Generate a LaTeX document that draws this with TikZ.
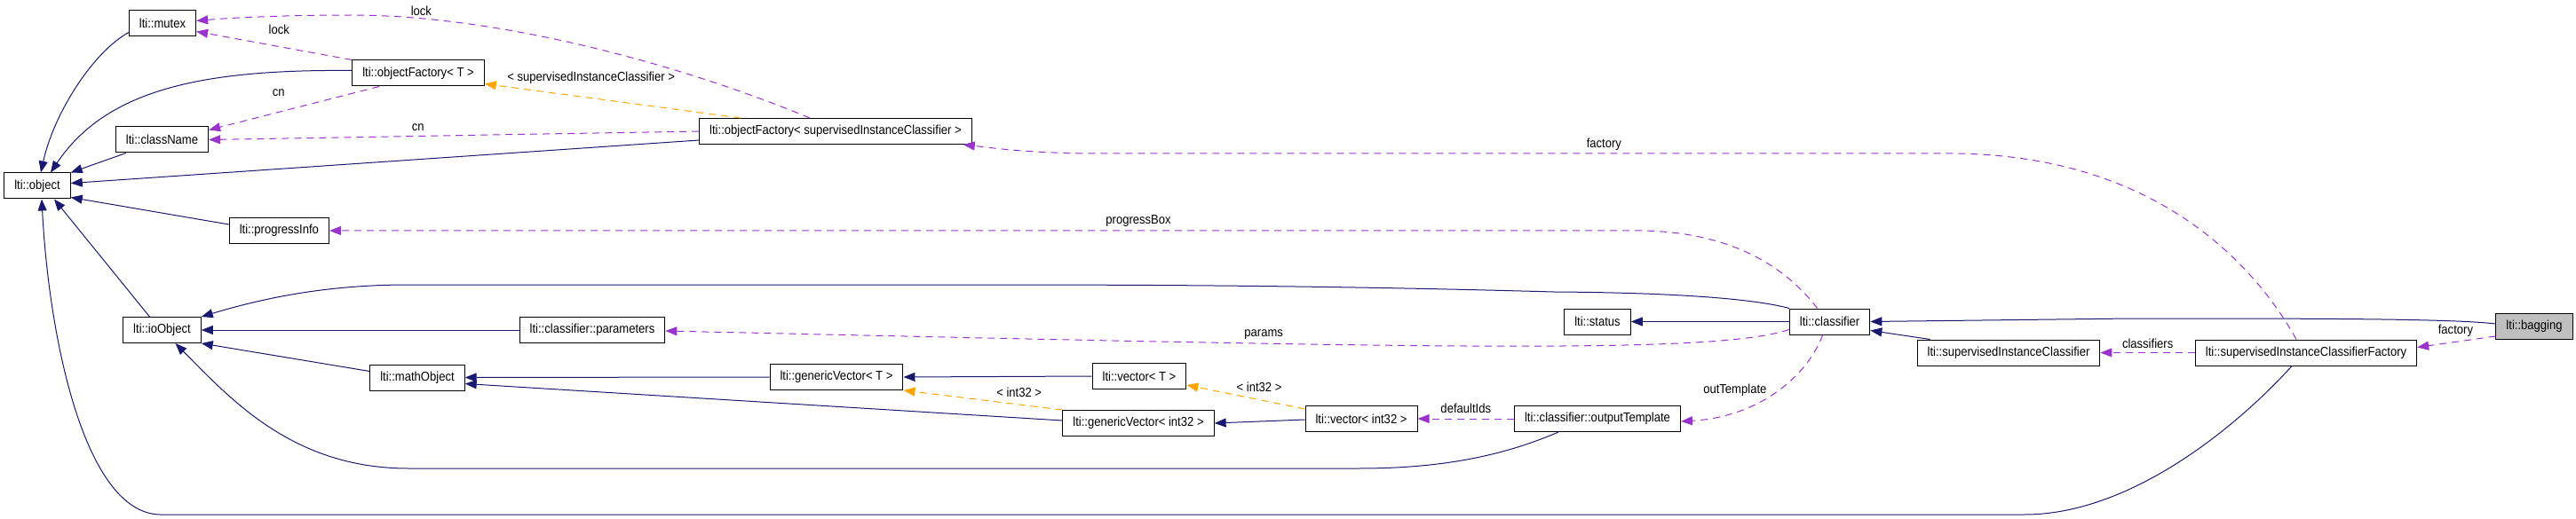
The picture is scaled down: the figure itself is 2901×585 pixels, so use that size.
\documentclass[tikz,border=0pt]{standalone}
\usepackage{fontspec}
\setmainfont{Liberation Sans}[FakeStretch=0.9]
\usepackage{tikz}
\usetikzlibrary{arrows.meta}

\definecolor{inhblue}{HTML}{191970}
\definecolor{usepurple}{HTML}{9A32CD}
\definecolor{tplorange}{HTML}{FFA500}

\begin{document}
\begin{tikzpicture}[
    x=1pt, y=1pt,
    font=\fontsize{14.5}{16}\selectfont,
    cls/.style={draw, line width=1pt, minimum height=29pt,
      inner xsep=11.5pt, inner ysep=0pt, fill=white},
    focus/.style={cls, fill=black!25},
    inherit/.style={draw=inhblue, line width=1pt,
      -{Triangle[length=13pt,width=10pt]}},
    member/.style={draw=usepurple, line width=1pt,
      dash pattern=on 8pt off 6pt, -{Triangle[length=13pt,width=10pt]}},
    tmpl/.style={member, draw=tplorange},
    elabel/.style={inner sep=0pt, text=black},
  ]
  \useasboundingbox (0,0) rectangle (2901,-585);

  % Base classes
  \node[cls] (object) at (42,-209.5) {lti::object};
  \node[cls] (mutex) at (183,-26.5) {lti::mutex};
  \node[cls] (cname) at (182.5,-157.5) {lti::className};
  \node[cls] (ofT) at (471,-82.5) {lti::objectFactory< T >};
  \node[cls] (pinfo) at (314.4,-260) {lti::progressInfo};
  \node[cls] (ofSIC) at (941,-148) {lti::objectFactory< supervisedInstanceClassifier >};
  \node[cls] (ioobj) at (182.5,-372) {lti::ioObject};
  \node[cls] (mathobj) at (470,-425.5) {lti::mathObject};
  \node[cls] (params) at (667,-372) {lti::classifier::parameters};

  % Vectors
  \node[cls] (gvT) at (942,-425) {lti::genericVector< T >};
  \node[cls] (vecT) at (1283,-424) {lti::vector< T >};
  \node[cls] (gvI) at (1282,-477) {lti::genericVector< int32 >};
  \node[cls] (vecI) at (1533,-472) {lti::vector< int32 >};

  % Classifiers
  \node[cls] (otpl) at (1799,-472) {lti::classifier::outputTemplate};
  \node[cls] (status) at (1799,-362.5) {lti::status};
  \node[cls] (classifier) at (2060.6,-362.5) {lti::classifier};
  \node[cls] (sic) at (2262,-397.5) {lti::supervisedInstanceClassifier};
  \node[cls] (sicf) at (2597,-397.5) {lti::supervisedInstanceClassifierFactory};
  \node[focus] (bagging) at (2854,-368) {lti::bagging};

  % Inheritance
  \draw[inherit] ([yshift=-10pt]mutex.west) .. controls (103,-60) and (60,-130) .. ([xshift=4pt]object.north);
  \draw[inherit] ([yshift=3pt]ofT.west) .. controls (230,-78) and (120,-100) .. ([xshift=15pt]object.north);
  \draw[inherit] ([xshift=12pt]cname.south west) -- (object.north east);
  \draw[inherit] ([yshift=-10pt]ofSIC.west) -- ([yshift=3pt]object.east);
  \draw[inherit] ([yshift=7pt]pinfo.west) -- ([yshift=2pt]object.south east);
  \draw[inherit] ([xshift=-14pt]ioobj.north) -- ([xshift=19pt]object.south);
  \draw[inherit] ([xshift=-16pt]sicf.south) .. controls (2520,-480) and (2400,-580) .. (2280,-580)
    -- (180,-580) .. controls (95,-578) and (55,-380) .. ([xshift=5pt]object.south);
  \draw[inherit] (classifier.north west) .. controls (1980,-338) and (1900,-330) .. (1750,-329)
    .. controls (1500,-322) and (1300,-321) .. (1100,-321)
    -- (460,-321) .. controls (370,-321) and (300,-335) .. (ioobj.north east);
  \draw[inherit] (params.west) -- (ioobj.east);
  \draw[inherit] ([yshift=7pt]mathobj.west) -- (ioobj.south east);
  \draw[inherit] ([xshift=-44pt]otpl.south) .. controls (1690,-515) and (1620,-528) .. (1530,-528)
    -- (460,-528) .. controls (330,-528) and (260,-450) .. ([xshift=15pt]ioobj.south);
  \draw[inherit] (gvT.west) -- (mathobj.east);
  \draw[inherit] ([yshift=3pt]gvI.west) -- ([yshift=-7pt]mathobj.east);
  \draw[inherit] (vecT.west) -- (gvT.east);
  \draw[inherit] ([yshift=-1pt]vecI.west) -- (gvI.east);
  \draw[inherit] (classifier.west) -- (status.east);
  \draw[inherit] ([xshift=15pt]sic.north west) -- ([yshift=5pt]classifier.south east);
  \draw[inherit] ([yshift=3pt]bagging.west) .. controls (2760,-359) and (2600,-359) .. (2400,-359)
    -- (classifier.east);

  % Members
  \draw[member] ([yshift=-11pt]bagging.west) -- node[elabel, pos=0.51, yshift=12.6pt] {factory}
    ([yshift=6pt]sicf.east);
  \draw[member] (sicf.west) -- node[elabel, pos=0.5, yshift=10.5pt] {classifiers} (sic.east);
  \draw[member] ([xshift=-11pt]sicf.north) .. controls (2540,-300) and (2430,-175) .. (2200,-173)
    -- node[elabel, pos=0.41, yshift=10pt] {factory} (1240,-173)
    .. controls (1160,-173) and (1120,-167) .. ([xshift=-10pt]ofSIC.south east);
  \draw[member] ([xshift=-14pt]classifier.north) .. controls (2010,-300) and (1950,-262) .. (1850,-260)
    -- node[elabel, pos=0.384, yshift=11pt] {progressBox} (pinfo.east);
  \draw[member] ([yshift=-9pt]classifier.west) .. controls (1930,-400) and (1600,-392)
    .. node[elabel, pos=0.675, yshift=10pt] {params} ([yshift=-1pt]params.east);
  \draw[member] ([xshift=-8pt]classifier.south) .. controls (2035,-425) and (1980,-470)
    .. node[elabel, pos=0.5, xshift=-45pt, yshift=2pt] {outTemplate} ([yshift=-3pt]otpl.east);
  \draw[member] (otpl.west) -- node[elabel, pos=0.5, yshift=12pt] {defaultIds} (vecI.east);
  \draw[member] ([xshift=-29pt]ofSIC.north) .. controls (760,-70) and (560,-18)
    .. node[elabel, pos=0.85, yshift=8pt] {lock} (400,-17)
    .. controls (320,-17) and (260,-20) .. ([yshift=3pt]mutex.east);
  \draw[member] (ofSIC.west) -- node[elabel, pos=0.573, yshift=9.4pt] {cn} (cname.east);
  \draw[member] (ofT.north west) -- node[elabel, pos=0.468, yshift=19.6pt] {lock}
    ([yshift=6pt]mutex.south east);
  \draw[member] ([xshift=-44pt]ofT.south) -- node[elabel, pos=0.59, yshift=21.9pt] {cn}
    ([yshift=-4pt]cname.north east);

  % Template arguments
  \draw[tmpl] ([xshift=-107pt]ofSIC.north) -- node[elabel, pos=0.584, yshift=22.5pt]
    {< supervisedInstanceClassifier >} ([yshift=3pt]ofT.south east);
  \draw[tmpl] (gvI.north west) -- node[elabel, pos=0.272, yshift=13.7pt] {< int32 >} (gvT.south east);
  \draw[tmpl] ([yshift=-4pt]vecI.north west) -- node[elabel, pos=0.386, yshift=14pt] {< int32 >}
    ([yshift=5pt]vecT.south east);
\end{tikzpicture}
\end{document}
